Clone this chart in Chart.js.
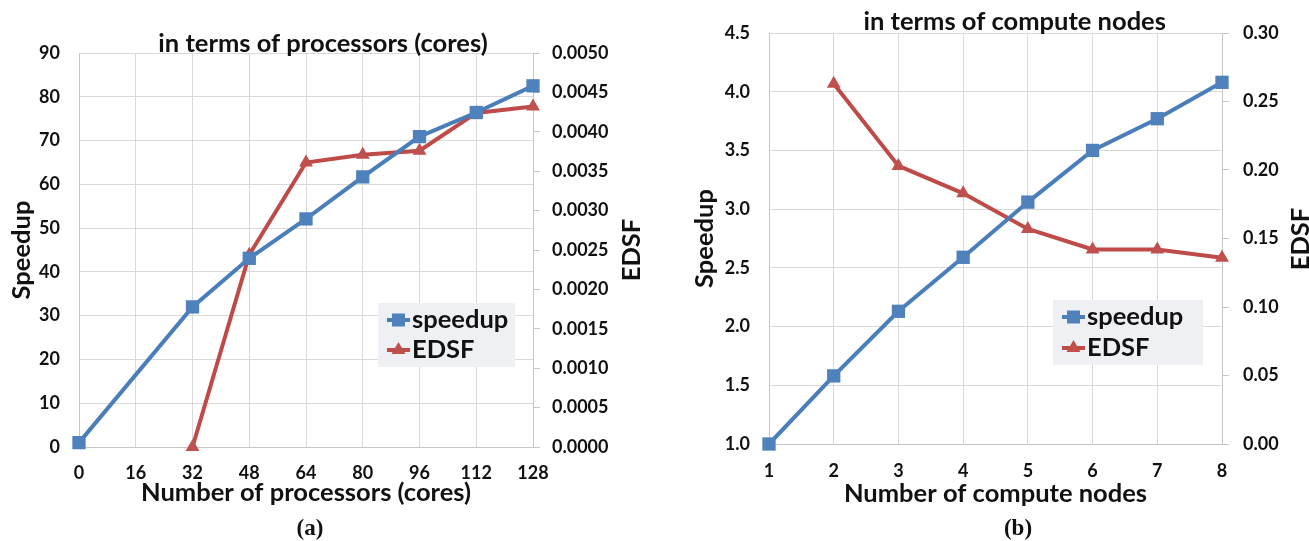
<!DOCTYPE html>
<html><head><meta charset="utf-8">
<script src="https://cdn.jsdelivr.net/npm/chart.js@4.4.1/dist/chart.umd.min.js"></script>
<style>
html,body{margin:0;padding:0;background:#fff;width:1309px;height:541px;overflow:hidden;}
#ca{position:absolute;left:0;top:0;}
#cb{position:absolute;left:650px;top:0;}
.cap{position:absolute;font-family:'Liberation Serif',serif;font-weight:bold;font-size:23px;color:#111;transform:translateX(-50%);line-height:normal;}
</style></head><body>
<canvas id="ca" width="646" height="541"></canvas>
<canvas id="cb" width="659" height="541"></canvas>
<div class="cap" style="left:310px;top:515px">(a)</div>
<div class="cap" style="left:1018px;top:515px">(b)</div>
<script>
// ---- data (a): in terms of processors (cores)
const coreCounts  = [0, 32, 48, 64, 80, 96, 112, 128];
const coreSpeedup = [1, 32, 43.1, 52.1, 61.7, 70.9, 76.4, 82.5];
const coreEDSF    = [null, 0.0000, 0.00244, 0.00361, 0.00371, 0.00376, 0.00424, 0.00432];
const coreXTicks  = [0, 16, 32, 48, 64, 80, 96, 112, 128];
const coreYTicks  = [0, 10, 20, 30, 40, 50, 60, 70, 80, 90];
const coreY1Ticks = [0, 0.0005, 0.001, 0.0015, 0.002, 0.0025, 0.003, 0.0035, 0.004, 0.0045, 0.005];
// ---- data (b): in terms of compute nodes
const nodeCounts  = [1, 2, 3, 4, 5, 6, 7, 8];
const nodeSpeedup = [1.0, 1.58, 2.13, 2.59, 3.06, 3.50, 3.77, 4.08];
const nodeEDSF    = [null, 0.263, 0.203, 0.183, 0.157, 0.142, 0.142, 0.136];
const nodeXTicks  = [1, 2, 3, 4, 5, 6, 7, 8];
const nodeYTicks  = [1.0, 1.5, 2.0, 2.5, 3.0, 3.5, 4.0, 4.5];
const nodeY1Ticks = [0, 0.05, 0.10, 0.15, 0.20, 0.25, 0.30];
const seriesNames = ['speedup', 'EDSF'];

const BLUE_LINE = '#4A7EBB', BLUE = '#4F81BD';
const RED_LINE = '#BE4B48', RED = '#C0504D';
const GRID = '#d9d9d9', AXIS = '#c6c6c6', TXT = '#111';
const FONT = 'Lato';
const HEAD = 25.5;

Chart.defaults.font.family = FONT;
Chart.defaults.color = TXT;

function pts(xs, ys) { return xs.map((x, i) => ({x: x, y: ys[i]})); }
function fixTicks(arr) { return s => { s.ticks = arr.map(v => ({value: v})); }; }

function overlay(o) {
  return {
    id: 'overlay',
    afterDraw(chart) {
      const ctx = chart.ctx;
      ctx.save();
      ctx.fillStyle = TXT;
      ctx.font = 'bold ' + HEAD + 'px ' + FONT;
      ctx.textAlign = 'center';
      ctx.textBaseline = 'alphabetic';
      ctx.fillText(o.title, o.titleX, o.titleY);
      // right axis title
      ctx.save();
      ctx.translate(o.rtX, o.rtY);
      ctx.rotate(-Math.PI / 2);
      ctx.textBaseline = 'middle';
      ctx.fillText(o.rtText, 0, 0);
      ctx.restore();
      // legend
      const L = o.legend;
      ctx.fillStyle = '#eef0f4';
      ctx.fillRect(L.x, L.y, L.w, L.h);
      const items = [
        {label: seriesNames[0], line: BLUE_LINE, fill: BLUE, style: 'rect'},
        {label: seriesNames[1], line: RED_LINE, fill: RED, style: 'triangle'}
      ];
      items.forEach((it, i) => {
        const cy = L.y + L.rows[i];
        ctx.strokeStyle = it.line;
        ctx.lineWidth = 4;
        ctx.beginPath();
        ctx.moveTo(L.x + 9, cy);
        ctx.lineTo(L.x + 32, cy);
        ctx.stroke();
        const cx = L.x + 20.5;
        ctx.fillStyle = it.fill;
        if (it.style === 'rect') {
          ctx.fillRect(cx - 6.5, cy - 6.5, 13, 13);
        } else {
          ctx.beginPath();
          ctx.moveTo(cx, cy - 8);
          ctx.lineTo(cx + 7, cy + 4);
          ctx.lineTo(cx - 7, cy + 4);
          ctx.closePath();
          ctx.fill();
        }
        ctx.fillStyle = TXT;
        ctx.font = 'bold ' + HEAD + 'px ' + FONT;
        ctx.textAlign = 'left';
        ctx.textBaseline = 'middle';
        ctx.fillText(it.label, L.x + 34, cy);
      });
      ctx.restore();
    }
  };
}

function makeChart(id, c) {
  return new Chart(document.getElementById(id), {
    type: 'line',
    data: {
      datasets: [
        {label: seriesNames[0], data: pts(c.xs, c.speed), yAxisID: 'y',
         borderColor: BLUE_LINE, backgroundColor: BLUE, borderWidth: 4,
         pointStyle: 'rect', pointRadius: 9.4, pointHoverRadius: 9.4,
         pointBackgroundColor: BLUE, pointBorderColor: BLUE, pointBorderWidth: 0,
         tension: 0, clip: false},
        {label: seriesNames[1], data: pts(c.xs, c.edsf), yAxisID: 'y1',
         borderColor: RED_LINE, backgroundColor: RED, borderWidth: 4,
         pointStyle: 'triangle', pointRadius: 8, pointHoverRadius: 8,
         pointBackgroundColor: RED, pointBorderColor: RED, pointBorderWidth: 0,
         tension: 0, clip: false}
      ]
    },
    options: {
      responsive: false,
      animation: false,
      devicePixelRatio: 1,
      layout: {padding: {top: c.top, left: 0, right: 0, bottom: 0}},
      plugins: {legend: {display: false}, title: {display: false}, tooltip: {enabled: false}},
      scales: {
        x: {
          type: 'linear', position: 'bottom', min: c.xs0, max: c.xs1,
          afterBuildTicks: fixTicks(c.xTicks),
          afterFit: s => { s.height = c.xH; },
          grid: {color: GRID, lineWidth: 1, drawTicks: false},
          border: {color: AXIS},
          ticks: {padding: c.xPad, font: {size: 18, weight: 'bold'}, color: TXT, maxRotation: 0,
                  callback: v => String(v)},
          title: {display: true, text: c.xTitle, font: {size: HEAD, weight: 'bold'}, color: TXT,
                  padding: {top: 0, bottom: c.xTitlePad}}
        },
        y: {
          type: 'linear', position: 'left', min: c.y0, max: c.y1,
          afterBuildTicks: fixTicks(c.yTicks),
          afterFit: s => { s.width = c.yW; },
          grid: {color: GRID, lineWidth: 1, drawTicks: false},
          border: {color: AXIS},
          ticks: {padding: c.yPad, font: {size: 18, weight: 'bold'}, color: TXT,
                  callback: v => Number(v).toFixed(c.yDec)},
          title: {display: true, text: 'Speedup', font: {size: HEAD, weight: 'bold'}, color: TXT,
                  padding: {top: c.yTitlePad, bottom: 0}}
        },
        y1: {
          type: 'linear', position: 'right', min: 0, max: c.r1,
          afterBuildTicks: fixTicks(c.y1Ticks),
          afterFit: s => { s.width = c.y1W; },
          grid: {drawOnChartArea: false, drawTicks: true, tickLength: 7, color: AXIS, lineWidth: 1},
          border: {color: AXIS},
          ticks: {padding: c.y1Pad, font: {size: 18, weight: 'bold'}, color: TXT,
                  callback: v => Number(v).toFixed(c.y1Dec)}
        }
      }
    },
    plugins: [overlay(c.ov)]
  });
}

makeChart('ca', {
  xs: coreCounts, speed: coreSpeedup, edsf: coreEDSF,
  xs0: 0, xs1: 128, xTicks: coreXTicks, y0: 0, y1: 90, yTicks: coreYTicks, yDec: 0,
  r1: 0.005, y1Ticks: coreY1Ticks, y1Dec: 4,
  top: 53, xH: 94, yW: 79, y1W: 113,
  xPad: 15, yPad: 19, y1Pad: 12, xTitlePad: 32.7, yTitlePad: 6.7,
  xTitle: 'Number of processors (cores)',
  ov: {title: 'in terms of processors (cores)', titleX: 323, titleY: 51.5,
       rtText: 'EDSF', rtX: 632, rtY: 250,
       legend: {x: 378, y: 303, w: 137, h: 64, rows: [17, 47]}}
});

makeChart('cb', {
  xs: nodeCounts, speed: nodeSpeedup, edsf: nodeEDSF,
  xs0: 1, xs1: 8, xTicks: nodeXTicks, y0: 1, y1: 4.5, yTicks: nodeYTicks, yDec: 1,
  r1: 0.30, y1Ticks: nodeY1Ticks, y1Dec: 2,
  top: 33, xH: 97, yW: 119, y1W: 87,
  xPad: 16, yPad: 19, y1Pad: 14, xTitlePad: 31.7, yTitlePad: 39.7,
  xTitle: 'Number of compute nodes',
  ov: {title: 'in terms of compute nodes', titleX: 364.7, titleY: 29.5,
       rtText: 'EDSF', rtX: 651, rtY: 239,
       legend: {x: 403, y: 300, w: 150, h: 65, rows: [17, 48]}}
});
</script>
</body></html>
